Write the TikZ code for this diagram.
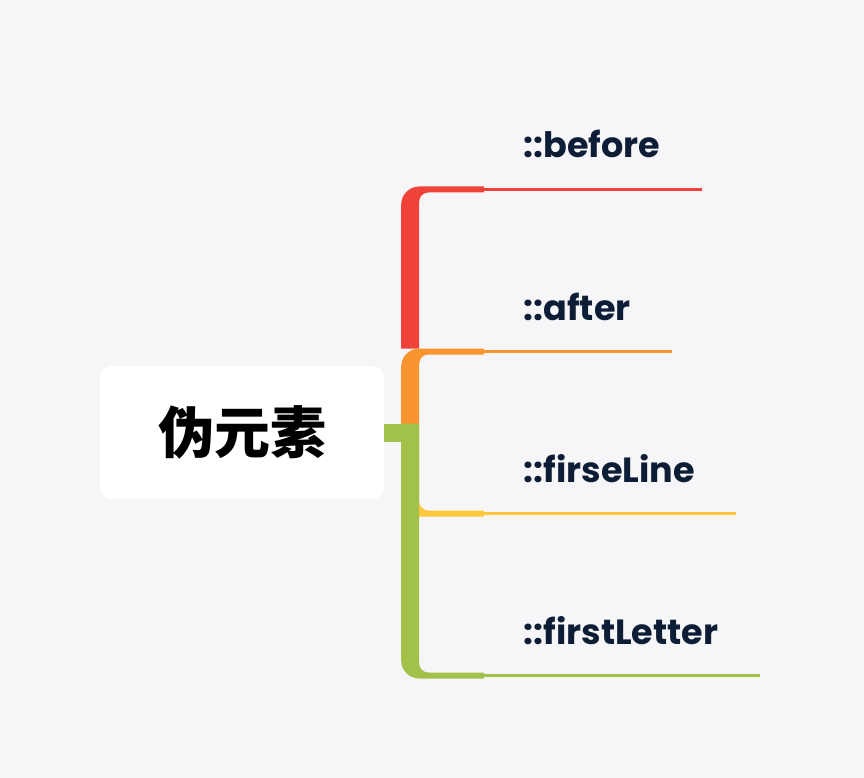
\documentclass[tikz,border=0pt]{standalone}
\usepackage{fontspec}
\usetikzlibrary{positioning}
\newfontfamily\cjk{Noto Sans CJK SC}
\newfontfamily\lblfont{Poppins}
\definecolor{bg}{HTML}{F6F6F9}
\definecolor{cRed}{HTML}{EF4339}
\definecolor{cOrange}{HTML}{F9952F}
\definecolor{cYellow}{HTML}{FFC83C}
\definecolor{cGreen}{HTML}{A2C14A}
\definecolor{ink}{HTML}{0E1D36}
\begin{document}
\begin{tikzpicture}[x=1pt, y=-1pt,
    root/.style = {fill=white, rounded corners=12pt, minimum width=284pt, minimum height=133pt, inner sep=0pt, font=\cjk\bfseries\fontsize{56}{56}\selectfont},
    lbl/.style = {inner sep=0pt, text=ink, font=\lblfont\bfseries\fontsize{35}{35}\selectfont},
    thin/.style = {line width=3pt}]
    \fill[bg] (0,0) rectangle (864,778);
    \node[root] (0) at (242,432.5) {伪元素};
    \node[lbl, anchor=base west] (1) at (523.5,158) {::before};
    \node[lbl, below=162pt of 1.base west, anchor=base west] (2) {::after};
    \node[lbl, below=162pt of 2.base west, anchor=base west] (3) {::firseLine};
    \node[lbl, below=162pt of 3.base west, anchor=base west] (4) {::firstLetter};
    % junction and line ends
    \coordinate (j) at ([xshift=26pt]0.east);
    \foreach \i in {1,...,4} {
        \coordinate (e\i) at ([xshift=41pt,yshift=-31.5pt]\i.base east);
        \coordinate (c\i) at (j |- e\i);
    }
    % branches
    \fill[cRed] ([xshift=-9pt,yshift=3pt]c2) -- ([xshift=-9pt,yshift=-15pt]c1) arc[start angle=180, end angle=90, radius=18pt]
        -- ([xshift=74pt,yshift=3pt]c1) -- ([xshift=74pt,yshift=-3pt]c1) -- ([xshift=18pt,yshift=-3pt]c1) arc[start angle=90, end angle=180, radius=9pt]
        -- ([xshift=9pt,yshift=3pt]c2) -- cycle;
    \fill[cOrange] ([xshift=-9pt]j) -- ([xshift=-9pt,yshift=-15pt]c2) arc[start angle=180, end angle=90, radius=18pt]
        -- ([xshift=74pt,yshift=3pt]c2) -- ([xshift=74pt,yshift=-3pt]c2) -- ([xshift=18pt,yshift=-3pt]c2) arc[start angle=90, end angle=180, radius=9pt]
        -- ([xshift=9pt]j) -- cycle;
    \fill[cYellow] ([xshift=-9pt]j) -- ([xshift=-9pt,yshift=15pt]c3) arc[start angle=180, end angle=270, radius=18pt]
        -- ([xshift=74pt,yshift=-3pt]c3) -- ([xshift=74pt,yshift=3pt]c3) -- ([xshift=18pt,yshift=3pt]c3) arc[start angle=270, end angle=180, radius=9pt]
        -- ([xshift=9pt]j) -- cycle;
    \fill[cGreen] ([xshift=-9pt,yshift=9pt]j) -- ([xshift=-9pt,yshift=15pt]c4) arc[start angle=180, end angle=270, radius=18pt]
        -- ([xshift=74pt,yshift=-3pt]c4) -- ([xshift=74pt,yshift=3pt]c4) -- ([xshift=18pt,yshift=3pt]c4) arc[start angle=270, end angle=180, radius=9pt]
        -- ([xshift=9pt,yshift=9pt]j) -- cycle;
    \draw[cGreen, line width=18pt] (0.east) -- (j);
    \draw[cRed, thin] ([xshift=74pt]c1) -- (e1);
    \draw[cOrange, thin] ([xshift=74pt]c2) -- (e2);
    \draw[cYellow, thin] ([xshift=74pt]c3) -- (e3);
    \draw[cGreen, thin] ([xshift=74pt]c4) -- (e4);
\end{tikzpicture}
\end{document}
